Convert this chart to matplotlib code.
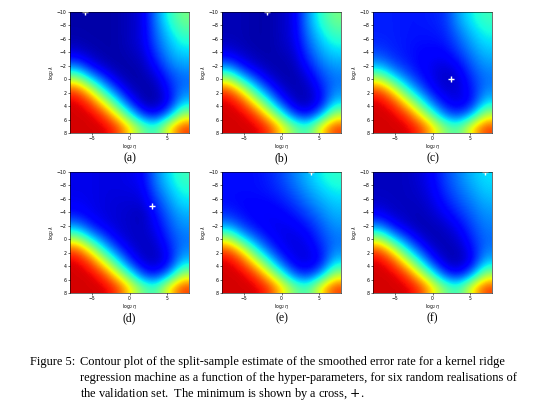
import numpy as np
import matplotlib
matplotlib.use("Agg")
import matplotlib.pyplot as plt

log_eta = [-8, -6, -4, -2, 0, 2, 4, 6, 8]
log_lam = [-10, -8, -6, -4, -2, 0, 2, 4, 6, 8]
x_ticks = [-5, 0, 5]
y_ticks = [-10, -8, -6, -4, -2, 0, 2, 4, 6, 8]
panel_labels = ["(a)", "(b)", "(c)", "(d)", "(e)", "(f)"]

err_a = [[.08,.08,.08,.08,.10,.13,.30,.45,.55],
         [.08,.08,.08,.08,.10,.13,.28,.40,.50],
         [.09,.08,.08,.08,.10,.13,.26,.36,.44],
         [.14,.10,.08,.08,.09,.11,.22,.33,.38],
         [.30,.18,.11,.08,.08,.09,.17,.28,.33],
         [.62,.40,.24,.12,.08,.08,.11,.22,.28],
         [.92,.72,.45,.25,.11,.08,.08,.18,.30],
         [1.0,.94,.72,.46,.22,.09,.08,.15,.38],
         [1.0,1.0,.94,.72,.46,.22,.16,.32,.62],
         [1.0,1.0,1.0,.94,.74,.54,.46,.72,.92]]
err_b = [[.09,.09,.08,.08,.10,.14,.32,.46,.55],
         [.09,.09,.08,.08,.10,.14,.30,.42,.50],
         [.10,.09,.08,.08,.10,.13,.27,.37,.44],
         [.15,.11,.09,.08,.09,.11,.23,.33,.38],
         [.31,.19,.12,.09,.08,.09,.18,.28,.33],
         [.62,.40,.25,.13,.09,.08,.12,.23,.29],
         [.92,.72,.45,.26,.12,.09,.09,.18,.31],
         [1.0,.94,.72,.46,.23,.10,.09,.16,.39],
         [1.0,1.0,.94,.72,.47,.23,.17,.33,.63],
         [1.0,1.0,1.0,.94,.74,.55,.47,.73,.92]]
err_c = [[.20,.20,.19,.19,.20,.22,.34,.42,.48],
         [.20,.20,.19,.19,.19,.21,.30,.38,.44],
         [.21,.20,.19,.18,.18,.19,.26,.34,.40],
         [.25,.21,.19,.17,.16,.16,.22,.30,.36],
         [.36,.27,.21,.17,.14,.12,.16,.26,.32],
         [.64,.44,.30,.20,.14,.10,.12,.22,.29],
         [.92,.74,.48,.30,.17,.12,.12,.19,.31],
         [1.0,.94,.74,.50,.28,.16,.13,.18,.40],
         [1.0,1.0,.94,.74,.50,.28,.22,.35,.64],
         [1.0,1.0,1.0,.94,.76,.56,.50,.74,.92]]
err_d = [[.14,.14,.13,.13,.14,.16,.30,.40,.48],
         [.14,.14,.13,.13,.13,.14,.27,.36,.44],
         [.15,.14,.13,.12,.12,.12,.22,.32,.40],
         [.19,.15,.13,.12,.11,.09,.18,.28,.35],
         [.33,.22,.15,.12,.11,.10,.15,.25,.32],
         [.62,.42,.27,.15,.11,.10,.12,.22,.29],
         [.92,.72,.46,.27,.14,.10,.10,.18,.31],
         [1.0,.94,.72,.47,.24,.12,.10,.16,.39],
         [1.0,1.0,.94,.72,.48,.24,.18,.33,.63],
         [1.0,1.0,1.0,.94,.74,.54,.47,.73,.92]]
err_e = [[.18,.18,.18,.20,.24,.30,.36,.42,.46],
         [.18,.18,.18,.19,.22,.27,.33,.38,.42],
         [.18,.17,.17,.17,.19,.23,.29,.34,.38],
         [.22,.18,.16,.15,.16,.19,.24,.30,.35],
         [.34,.24,.18,.15,.14,.15,.19,.26,.32],
         [.64,.42,.28,.18,.14,.13,.15,.23,.29],
         [.92,.74,.47,.28,.16,.13,.13,.19,.31],
         [1.0,.94,.73,.48,.26,.14,.13,.17,.40],
         [1.0,1.0,.94,.73,.49,.26,.20,.34,.63],
         [1.0,1.0,1.0,.94,.75,.55,.48,.73,.92]]
err_f = [[.10,.10,.10,.12,.16,.24,.30,.36,.40],
         [.10,.10,.10,.11,.15,.22,.28,.33,.38],
         [.11,.10,.10,.10,.13,.19,.25,.30,.35],
         [.16,.11,.10,.09,.11,.15,.21,.27,.32],
         [.31,.19,.12,.09,.09,.11,.16,.24,.30],
         [.62,.40,.25,.13,.09,.09,.12,.21,.28],
         [.92,.72,.45,.26,.12,.09,.09,.17,.30],
         [1.0,.94,.72,.46,.23,.10,.09,.15,.38],
         [1.0,1.0,.94,.72,.47,.23,.17,.32,.62],
         [1.0,1.0,1.0,.94,.74,.54,.47,.72,.92]]
errors = [err_a, err_b, err_c, err_d, err_e, err_f]
min_eta = [-6.0, -2.0, 2.5, 3.0, 4.0, 7.0]
min_lam = [-10.0, -10.0, 0.0, -5.0, -10.0, -10.0]

fig = plt.figure(figsize=(5.4, 4.15), dpi=100)
lefts = [70/540, 222/540, 373/540]
bottoms = [1 - 133/415, 1 - 293/415]
w, h = 119/540, 121/415
for i in range(6):
    r, c = divmod(i, 3)
    ax = fig.add_axes([lefts[c], bottoms[r], w, h])
    ax.imshow(np.array(errors[i]), cmap="jet", vmin=0.04, vmax=1.08, aspect="auto",
              interpolation="bicubic", origin="upper",
              extent=[log_eta[0], log_eta[-1], log_lam[-1], log_lam[0]])
    ax.plot(min_eta[i], min_lam[i], "+", color="white", ms=5, mew=1)
    ax.set_xlim(log_eta[0], log_eta[-1])
    ax.set_ylim(log_lam[-1], log_lam[0])
    ax.set_xticks(x_ticks)
    ax.set_yticks(y_ticks)
    ax.tick_params(labelsize=3.3, length=1.5, width=0.4, pad=1)
    ax.set_xlabel(r"$\log_2\eta$", fontsize=3.3, labelpad=0.5)
    ax.set_ylabel(r"$\log_2\lambda$", fontsize=3.3, labelpad=0.5)
    for s in ax.spines.values():
        s.set_linewidth(0.4)
    fig.text(lefts[c] + w/2, bottoms[r] - 25/415, panel_labels[i],
             ha="center", va="center", fontsize=8.5, family="Liberation Serif")

cap = dict(fontsize=8.9, family="Liberation Serif", va="baseline")
fig.text(30/540, 1 - 365/415, "Figure 5:", **cap)
fig.text(80/540, 1 - 365/415, "Contour plot of the split-sample estimate of the smoothed error rate for a kernel ridge", **cap)
fig.text(80/540, 1 - 381/415, "regression machine as a function of the hyper-parameters, for six random realisations of", **cap)
fig.text(80/540, 1 - 397/415, "the validation set.  The minimum is shown by a cross, $+$.", **cap)
fig.savefig("out.png", dpi=100)
